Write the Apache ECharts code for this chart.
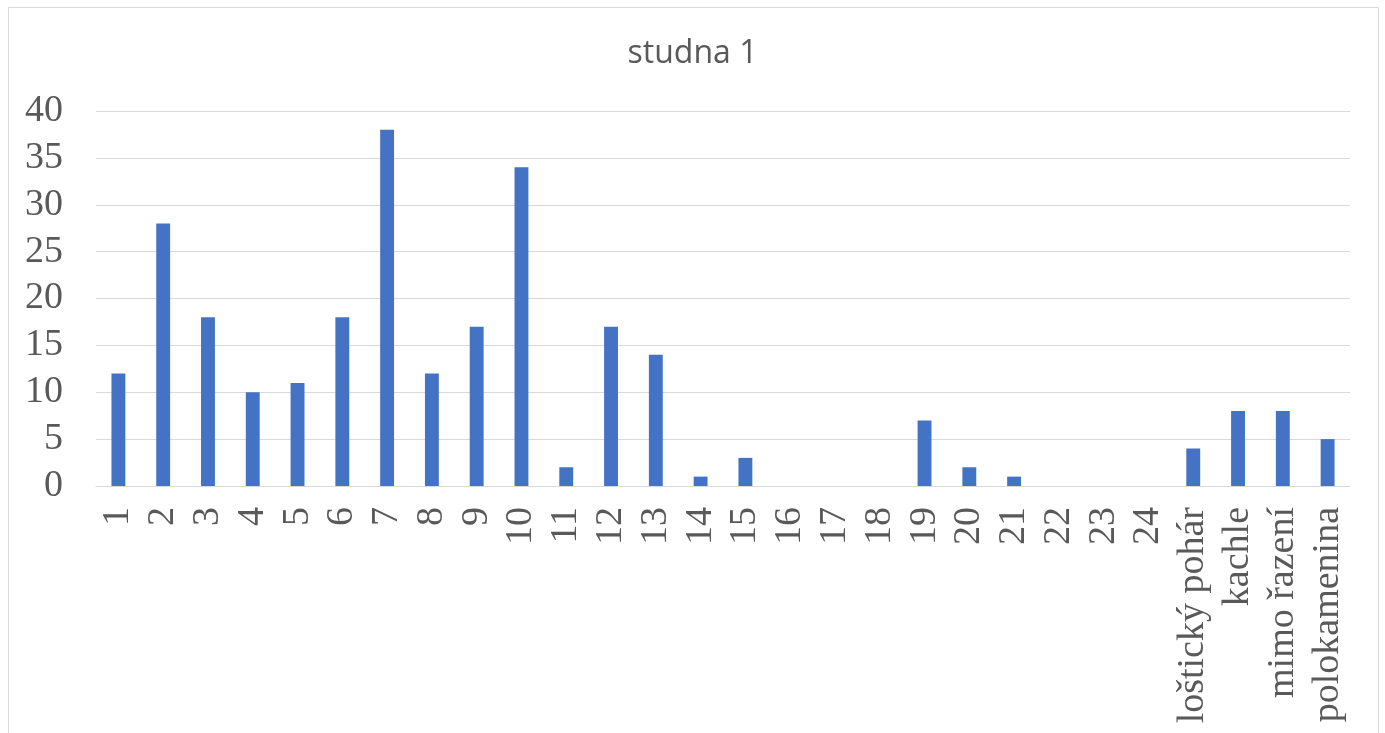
<!DOCTYPE html>
<html>
<head>
<meta charset="utf-8">
<script src="https://cdn.jsdelivr.net/npm/echarts@6/dist/echarts.min.js"></script>
<style>
  html, body { margin: 0; padding: 0; background: #fff; }
  #chart { width: 1385px; height: 733px; }
</style>
</head>
<body>
<div id="chart"></div>
<script>
// Categories and counts for "studna 1"
const categories = ['1','2','3','4','5','6','7','8','9','10','11','12','13','14','15','16','17','18','19','20','21','22','23','24','loštický pohár','kachle','mimo řazení','polokamenina'];
const counts = [12,28,18,10,11,18,38,12,17,34,2,17,14,1,3,0,0,0,7,2,1,0,0,0,4,8,8,5];
const yTicks = { min: 0, max: 40, interval: 5 };

const chart = echarts.init(document.getElementById('chart'), null, { renderer: 'canvas' });
const serif = "'Liberation Serif', 'Times New Roman', serif";

chart.setOption({
  animation: false,
  backgroundColor: '#ffffff',
  graphic: [{
    type: 'rect',
    shape: { x: 8.5, y: 7.5, width: 1370, height: 800 },
    style: { fill: 'none', stroke: '#d9d9d9', lineWidth: 1 },
    silent: true
  }],
  title: {
    text: 'studna 1',
    left: 'center',
    top: 33,
    textStyle: { fontFamily: "'Open Sans', sans-serif", fontSize: 32, fontWeight: 'normal', color: '#595959' }
  },
  grid: { left: 96, right: 35, top: 111, bottom: 247, containLabel: false },
  xAxis: {
    type: 'category',
    data: categories,
    axisLine: { lineStyle: { color: '#d9d9d9', width: 1 } },
    axisTick: { show: false },
    axisLabel: {
      interval: 0,
      rotate: 90,
      margin: 21,
      fontFamily: serif,
      fontSize: 38,
      color: '#595959'
    }
  },
  yAxis: {
    type: 'value',
    min: yTicks.min,
    max: yTicks.max,
    interval: yTicks.interval,
    axisLine: { show: false },
    axisTick: { show: false },
    splitLine: { lineStyle: { color: '#d9d9d9', width: 1 } },
    axisLabel: { margin: 33, fontFamily: serif, fontSize: 38, color: '#595959' }
  },
  series: [{
    type: 'bar',
    data: counts,
    barWidth: '31%',
    itemStyle: { color: '#4472C4' }
  }]
});
</script>
</body>
</html>
